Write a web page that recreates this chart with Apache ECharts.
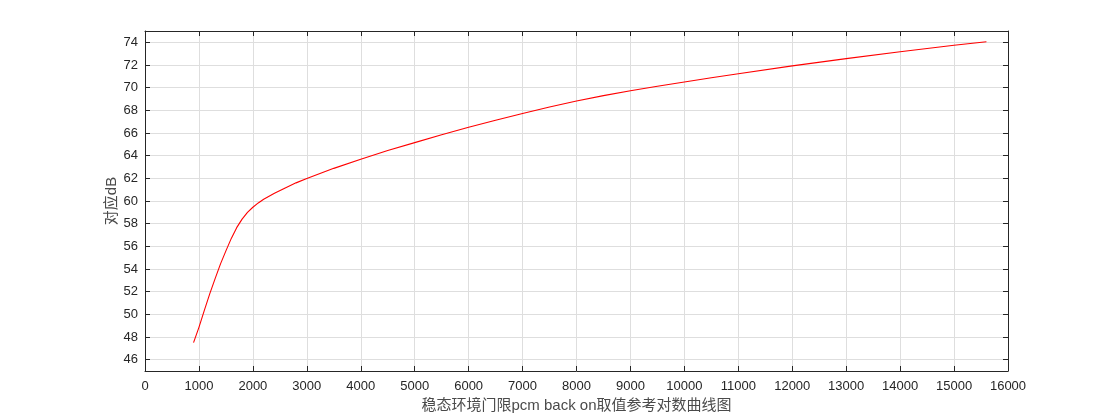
<!DOCTYPE html>
<html>
<head>
<meta charset="utf-8">
<script src="https://cdn.jsdelivr.net/npm/echarts@6/dist/echarts.min.js"></script>
<style>
html,body{margin:0;padding:0;background:#fff;}
#chart{width:1115px;height:418px;}
</style>
</head>
<body>
<div id="chart"></div>
<script>
// Data
const xValues = [900,1000,1100,1200,1300,1400,1500,1600,1700,1800,1900,2000,2100,2200,2400,2600,2800,3000,3500,4000,4500,5000,5500,6000,6500,7000,7500,8000,8500,9000,9500,10000,10500,11000,12000,13000,14000,15000,15600];
const yValues = [47.5,48.85,50.35,51.8,53.15,54.45,55.6,56.7,57.65,58.4,59.0,59.45,59.83,60.15,60.68,61.15,61.6,61.98,62.88,63.68,64.45,65.15,65.85,66.5,67.12,67.72,68.3,68.83,69.3,69.73,70.13,70.5,70.87,71.23,71.92,72.56,73.17,73.74,74.05];
const xTitle = '稳态环境门限pcm back on取值参考对数曲线图';
const yTitle = '对应dB';
const xRange = [0, 16000];
const yRange = [45, 75];

const axisColor = '#262626';
const gridColor = '#dedede';
const latin = "'Liberation Sans', Arial, Helvetica, sans-serif";
const mixed = "'Liberation Sans', 'Noto Sans CJK SC', sans-serif";

const seriesData = xValues.map((x, i) => [x, yValues[i]]);
const plain = v => String(v);

const chart = echarts.init(document.getElementById('chart'), null, {renderer: 'canvas'});
chart.setOption({
  animation: false,
  backgroundColor: '#ffffff',
  grid: {left: 145, right: 107, top: 31, bottom: 47, containLabel: false},
  xAxis: [{
    type: 'value', position: 'bottom',
    min: xRange[0], max: xRange[1], interval: 1000,
    name: xTitle, nameLocation: 'middle', nameGap: 27,
    nameTextStyle: {fontFamily: mixed, fontSize: 15, color: '#4a4a4a'},
    axisLine: {show: true, onZero: false, lineStyle: {color: axisColor, width: 1}},
    axisTick: {show: true, inside: true, length: 5, lineStyle: {color: axisColor}},
    axisLabel: {margin: 9, fontFamily: latin, fontSize: 13, color: axisColor, formatter: plain},
    splitLine: {show: true, lineStyle: {color: gridColor, width: 1}}
  }, {
    type: 'value', position: 'top',
    min: xRange[0], max: xRange[1], interval: 1000,
    axisLine: {show: true, onZero: false, lineStyle: {color: axisColor, width: 1}},
    axisTick: {show: true, inside: true, length: 5, lineStyle: {color: axisColor}},
    axisLabel: {show: false},
    splitLine: {show: false}
  }],
  yAxis: [{
    type: 'value', position: 'left',
    min: yRange[0], max: yRange[1], splitNumber: 15,
    name: yTitle, nameLocation: 'middle', nameGap: 26, nameRotate: 90,
    nameMoveOverlap: false,
    nameTextStyle: {fontFamily: mixed, fontSize: 15, color: '#4a4a4a'},
    axisLine: {show: true, onZero: false, lineStyle: {color: axisColor, width: 1}},
    axisTick: {show: true, inside: true, length: 5, lineStyle: {color: axisColor}},
    axisLabel: {margin: 7, fontFamily: latin, fontSize: 13, color: axisColor, showMinLabel: false, showMaxLabel: false, formatter: plain},
    splitLine: {show: true, lineStyle: {color: gridColor, width: 1}}
  }, {
    type: 'value', position: 'right',
    min: yRange[0], max: yRange[1], splitNumber: 15,
    axisLine: {show: true, onZero: false, lineStyle: {color: axisColor, width: 1}},
    axisTick: {show: true, inside: true, length: 5, lineStyle: {color: axisColor}},
    axisLabel: {show: false},
    splitLine: {show: false}
  }],
  series: [{
    type: 'line',
    xAxisIndex: 0, yAxisIndex: 0,
    data: seriesData,
    showSymbol: false,
    smooth: false,
    lineStyle: {color: '#ff0000', width: 1.1},
    itemStyle: {color: '#ff0000'}
  }]
});
</script>
</body>
</html>
